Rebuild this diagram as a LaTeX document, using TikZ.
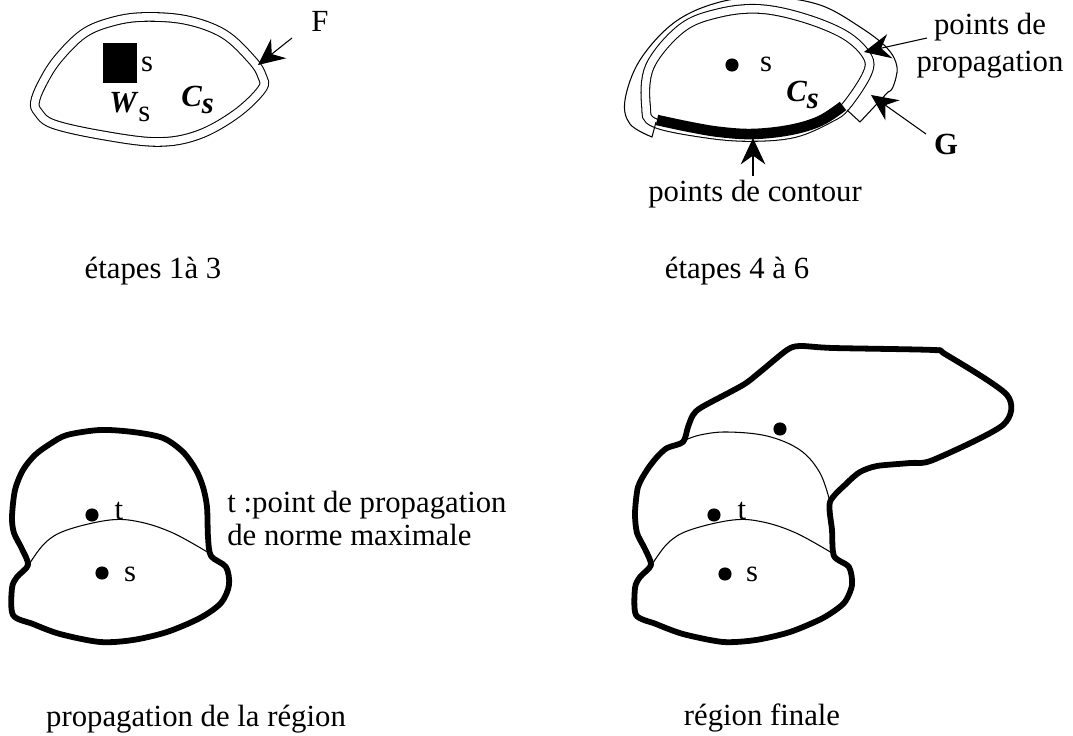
\documentclass[tikz,border=0pt]{standalone}
\usepackage{fontspec}
\setmainfont{Liberation Serif}
\usetikzlibrary{arrows.meta}

\begin{document}
\begin{tikzpicture}[
		x=0.02cm, y=-0.02cm,
		font=\fontsize{17.5}{19.3}\selectfont,
		lbl/.style={inner sep=0pt, anchor=base},
		dot/.style={circle, fill=black, inner sep=0pt, minimum size=7.5pt},
		seed/.style={rectangle, fill=black, inner sep=0pt,
			minimum width=19.3pt, minimum height=22.7pt},
		frontier/.style={draw=black, line width=0.6pt, double=white, double distance=4.3pt},
		thinline/.style={line width=0.6pt},
		region/.style={line width=3.3pt, line join=round},
		contourseg/.style={line width=6pt},
		pointer/.style={line width=0.6pt, -{Stealth[length=15pt,width=14pt,inset=5pt]}}
		]
		
		\useasboundingbox (0,0) rectangle (1073,736);
		
		% etapes 1 a 3
		\draw[frontier] plot[smooth cycle, tension=0.6] coordinates {(35,102) (42,84) (57,60) (83,34) (111,22) (143,17) (186,20) (224,34) (252,60) (262,76) (262,89) (236,114) (198,135) (157,142) (101,135) (53,124) (38,112)};
		\node[seed] (seed) at (120,63) {};
		\node[lbl] (s1) at (147,72) {s};
		\node[lbl, anchor=base west] (W1) at (109,113) {\textbf{\textit{W}}\raisebox{-5pt}{s}};
		\node[lbl, anchor=base west] (C1) at (181,107) {\textbf{\textit{C\raisebox{-3.5pt}{s}}}};
		\node[lbl] (F) at (320,32) {F};
		\coordinate (Ftail) at (292,38);
		\coordinate (Ftip) at (258,65);
		\draw[pointer] (Ftail) -- (Ftip);
		\node[lbl] (cap13) at (153,279) {étapes 1à 3};
		
		% etapes 4 a 6
		\draw[frontier] plot[smooth cycle, tension=0.6] coordinates {(646,106) (650,66) (682,28) (719,13) (760,9) (804,18) (845,35) (867,56) (867,74) (846,106) (830,118) (795,133) (753,137) (709,134) (655,123)};
		\draw[thinline] (656,122) -- (652,137) -- plot[smooth, tension=0.6] coordinates {(652,137) (630,124) (625,100) (640,60) (675,22) (720,2) (770,-3) (820,5) (860,27) (887,48) (897,67) (893,87) (888,92)} -- (860,122) -- (847,110);
		\draw[contourseg] plot[smooth, tension=0.6] coordinates {(657,120) (690,127) (720,132) (753,134) (790,130) (820,121) (843,106)};
		\node[dot] (sdot2) at (732,65) {};
		\node[lbl] (s2) at (766,72) {s};
		\node[lbl, anchor=base west] (C2) at (786,102) {\textbf{\textit{C\raisebox{-3.5pt}{s}}}};
		\node[lbl] (prop1) at (990,35) {points de};
		\node[lbl] (prop2) at (990,72) {propagation};
		\node[lbl] (G) at (946,155) {\textbf{G}};
		\node[lbl] (contour) at (755,202) {points de contour};
		\coordinate (proptail) at (927,38);
		\coordinate (proptip) at (864,52);
		\coordinate (Gtail) at (926,134);
		\coordinate (Gtip) at (871,95);
		\coordinate (ctail) at (753,176);
		\coordinate (ctip) at (753,138);
		\draw[pointer] (proptail) -- (proptip);
		\draw[pointer] (Gtail) -- (Gtip);
		\draw[pointer] (ctail) -- (ctip);
		\node[lbl] (cap46) at (737,279) {étapes 4 à 6};
		
		% propagation de la region
		\draw[region] plot[smooth cycle, tension=0.5] coordinates {(13,615) (12,588) (17,577) (28,565) (22,549) (14,533) (12,517) (15,490) (23,470) (35,455) (50,444) (67,435) (100,430) (133,432) (163,438) (183,452) (196,470) (203,487) (207,507) (208,537) (211,556) (226,567) (229,585) (221,603) (200,618) (167,632) (133,640) (100,642) (60,634) (33,624)};
		\draw[thinline] plot[smooth, tension=0.6] coordinates {(28,566) (45,543) (67,530) (110,520) (140,522) (173,533) (209,553)};
		\node[dot] (tdot3) at (92,515) {};
		\node[dot] (sdot3) at (102,573) {};
		\node[lbl] (t3) at (119,520) {t};
		\node[lbl] (s3) at (130,582) {s};
		\node[lbl, anchor=base west] (tnote1) at (227,513) {t :point de propagation};
		\node[lbl, anchor=base west] (tnote2) at (227,546) {de norme maximale};
		\node[lbl] (cap3) at (196,727) {propagation de la région};
		
		% region finale
		\draw[region] plot[smooth cycle, tension=0.45] coordinates {(636,615) (635,588) (640,577) (651,565) (645,549) (637,533) (635,513) (638,487) (647,470) (657,457) (667,448) (683,442) (688,427) (693,415) (702,407) (743,385) (760,372) (787,350) (800,346) (833,348) (933,350) (945,354) (1007,395) (1003,425) (933,460) (910,463) (877,466) (860,472) (847,483) (830,502) (832,530) (834,556) (849,567) (852,585) (844,603) (823,618) (790,632) (756,640) (723,642) (683,634) (656,624)};
		\draw[thinline] plot[smooth, tension=0.6] coordinates {(683,441) (700,435) (727,432) (767,436) (800,450) (820,473) (830,502)};
		\draw[thinline] plot[smooth, tension=0.6] coordinates {(651,566) (668,543) (690,530) (733,520) (763,522) (796,533) (832,553)};
		\node[dot] (udot4) at (780,429) {};
		\node[dot] (tdot4) at (714,515) {};
		\node[dot] (sdot4) at (725,574) {};
		\node[lbl] (t4) at (742,520) {t};
		\node[lbl] (s4) at (752,582) {s};
		\node[lbl] (cap4) at (762,726) {région finale};
		
	\end{tikzpicture}
\end{document}
